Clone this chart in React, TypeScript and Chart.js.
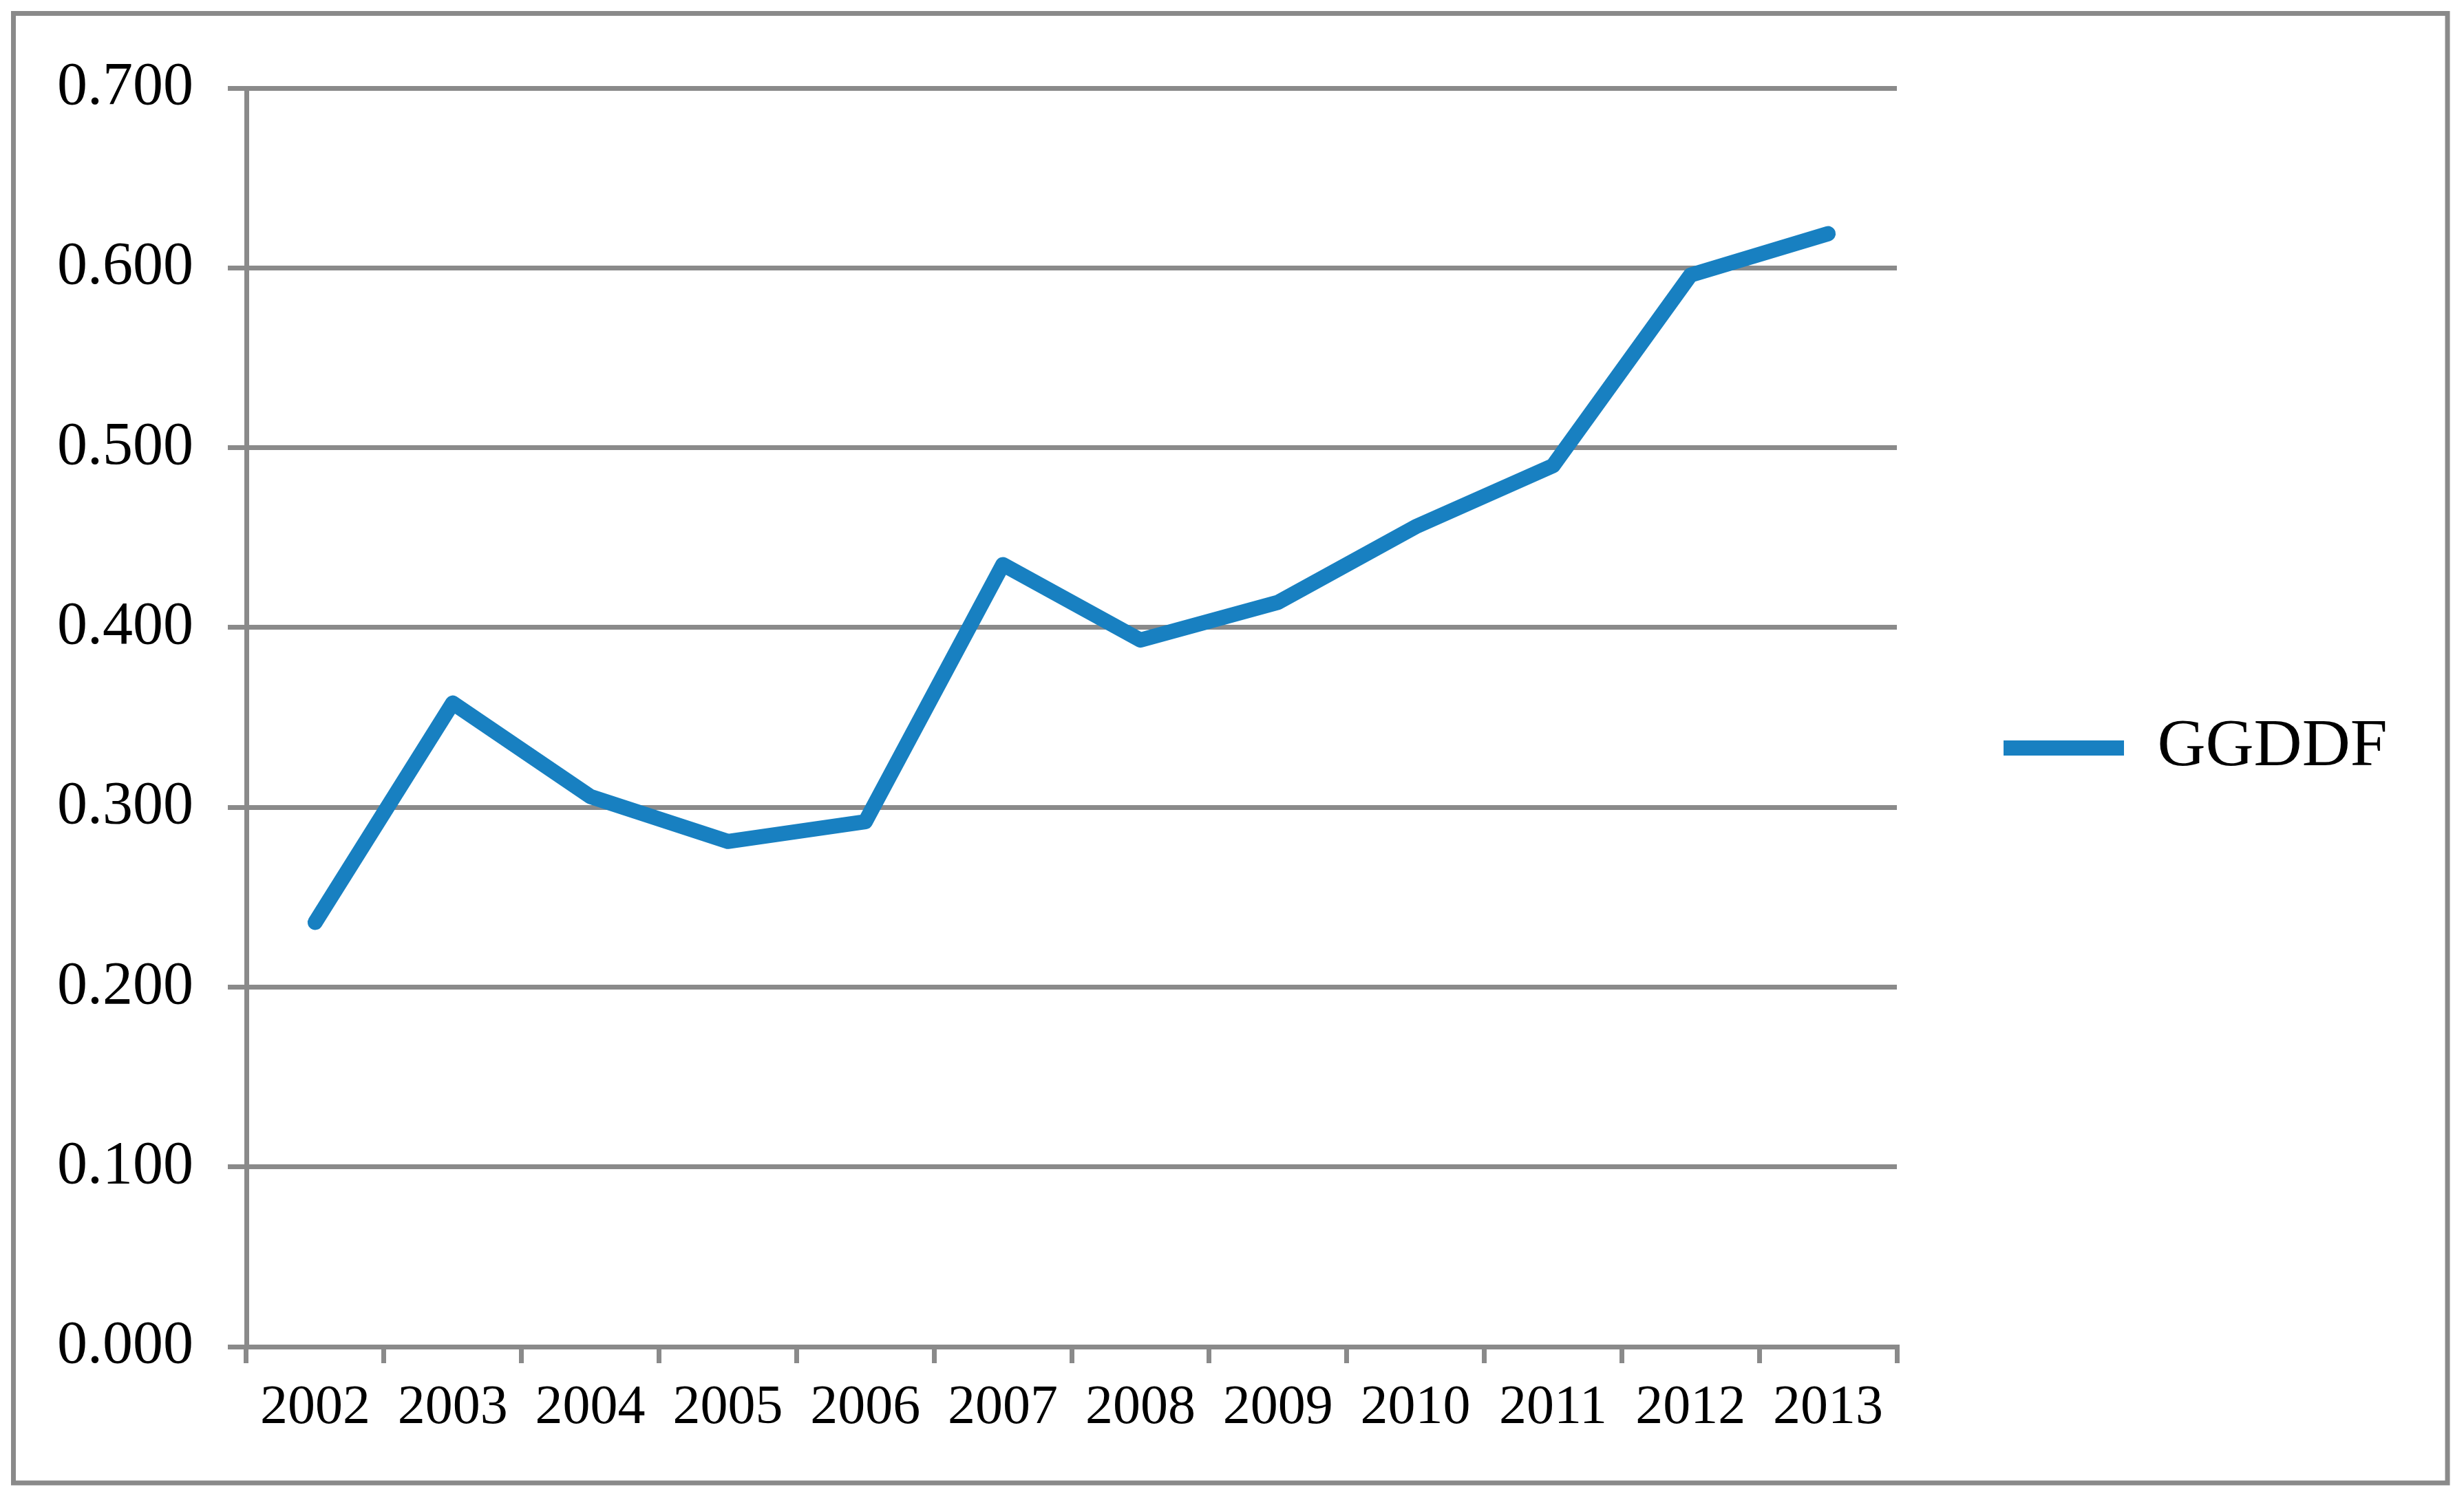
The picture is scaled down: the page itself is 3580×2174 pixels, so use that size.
import React, { useEffect, useRef } from 'react';
import { Chart, registerables } from 'chart.js';

Chart.register(...registerables);

// ---- data ----
const categories = ['2002', '2003', '2004', '2005', '2006', '2007', '2008', '2009', '2010', '2011', '2012', '2013'];
const seriesName = 'GGDDF';
const ggddfValues = [0.236, 0.358, 0.306, 0.281, 0.292, 0.435, 0.393, 0.414, 0.456, 0.49, 0.596, 0.619];
const yTickValues = [0, 0.1, 0.2, 0.3, 0.4, 0.5, 0.6, 0.7];

// ---- styling ----
const W = 3580;
const H = 2174;
const GRAY = '#8a8a8a';
const BLUE = '#1880c1';
const FONT = "'Liberation Serif', 'Times New Roman', serif";

const outerFrame = {
  id: 'outerFrame',
  afterDraw(chart: any) {
    const ctx = chart.ctx;
    ctx.save();
    ctx.strokeStyle = GRAY;
    ctx.lineWidth = 7;
    ctx.strokeRect(19.5, 19.5, 3536.5, 2135.5);
    ctx.restore();
  },
};

export default function App() {
  const canvasRef = useRef<HTMLCanvasElement | null>(null);

  useEffect(() => {
    if (!canvasRef.current) return;
    const chart = new Chart(canvasRef.current, {
      type: 'line',
      data: {
        labels: categories,
        datasets: [
          {
            label: seriesName,
            data: ggddfValues,
            borderColor: BLUE,
            backgroundColor: BLUE,
            borderWidth: 22,
            borderCapStyle: 'round',
            borderJoinStyle: 'round',
            pointRadius: 0,
            pointHoverRadius: 0,
            tension: 0,
            fill: false,
          },
        ],
      },
      options: {
        responsive: false,
        animation: false,
        devicePixelRatio: 1,
        events: [],
        layout: { padding: { left: 0, right: 40, top: 61, bottom: 61 } },
        plugins: {
          legend: {
            display: true,
            position: 'right',
            align: 'center',
            labels: {
              usePointStyle: true,
              pointStyle: 'line',
              pointStyleWidth: 175,
              padding: 155,
              color: '#000000',
              font: { family: FONT, size: 97 },
            },
          },
          tooltip: { enabled: false },
          title: { display: false },
        },
        scales: {
          x: {
            type: 'category',
            offset: true,
            grid: {
              offset: true,
              drawOnChartArea: false,
              drawTicks: true,
              tickLength: 24,
              color: GRAY,
              lineWidth: 7,
            },
            border: { display: true, color: GRAY, width: 7 },
            ticks: {
              color: '#000000',
              font: { family: FONT, size: 80 },
              padding: 18,
              maxRotation: 0,
              minRotation: 0,
              autoSkip: false,
            },
            afterFit: (s: any) => {
              s.paddingRight = W - 2756;
            },
          },
          y: {
            type: 'linear',
            min: 0,
            max: 0.7,
            grid: {
              color: GRAY,
              lineWidth: 7,
              drawTicks: true,
              tickLength: 27,
            },
            border: { display: true, color: GRAY, width: 7 },
            ticks: {
              color: '#000000',
              font: { family: FONT, size: 88 },
              padding: 50,
              callback: (v: any) => Number(v).toFixed(3),
            },
            afterBuildTicks: (axis: any) => {
              axis.ticks = yTickValues.map((v) => ({ value: v }));
            },
            afterFit: (s: any) => {
              s.width = 358;
              s.paddingTop = 128;
            },
          },
        },
      } as any,
      plugins: [outerFrame],
    });
    return () => chart.destroy();
  }, []);

  return (
    <div style={{ position: 'absolute', left: 0, top: 0, width: W, height: H, background: '#ffffff' }}>
      <canvas ref={canvasRef} width={W} height={H} style={{ display: 'block', width: W, height: H }} />
    </div>
  );
}
